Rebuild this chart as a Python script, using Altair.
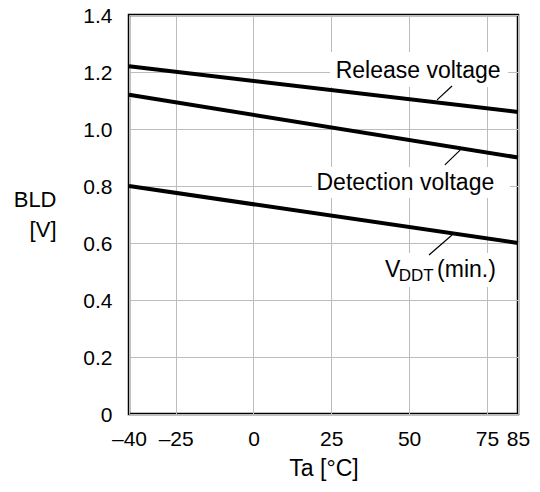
import json
import altair as alt
import pandas as pd

# ---- data ----
temps = [-40, 85]
release = [1.22, 1.06]
detection = [1.12, 0.90]
vddt_min = [0.80, 0.60]

x_ticks = [-40, -25, 0, 25, 50, 75, 85]
x_tick_labels = ["\u201340", "\u201325", "0", "25", "50", "75", "85"]
y_ticks = [0, 0.2, 0.4, 0.6, 0.8, 1.0, 1.2, 1.4]
y_tick_labels = ["0", "0.2", "0.4", "0.6", "0.8", "1.0", "1.2", "1.4"]

series_names = ["Release voltage", "Detection voltage", "VDDT (min.)"]

# centred annotation text (x in °C, y in V)
ctr_text = ["Release voltage", "Detection voltage"]
ctr_x = [52.9, 48.8]
ctr_y = [1.179, 0.786]
# left-aligned pieces of "V_DDT (min.)"
left_text = ["V", "(min.)"]
left_x = [42.3, 59.0]
left_y = [0.481, 0.481]
sub_text = ["DDT"]
sub_x = [46.7]
sub_y = [0.467]

# leader lines
lead_x = [59.0, 61.5, 56.4]
lead_y = [1.102, 0.874, 0.558]
lead_x2 = [63.8, 66.4, 63.8]
lead_y2 = [1.151, 0.926, 0.628]

# white backgrounds behind annotation text
box_x = [24.6, 18.8, 40.7]
box_x2 = [81.8, 82.4, 80.8]
box_y = [1.147, 0.758, 0.446]
box_y2 = [1.270, 0.867, 0.565]

# ---- tables ----
rows = []
for name, vals in zip(series_names, [release, detection, vddt_min]):
    for t, v in zip(temps, vals):
        rows.append({"series": name, "temp": t, "value": v})
lines_df = pd.DataFrame(rows)

ctr_df = pd.DataFrame({"text": ctr_text, "x": ctr_x, "y": ctr_y})
left_df = pd.DataFrame({"text": left_text, "x": left_x, "y": left_y})
sub_df = pd.DataFrame({"text": sub_text, "x": sub_x, "y": sub_y})
lead_df = pd.DataFrame({"x": lead_x, "y": lead_y, "x2": lead_x2, "y2": lead_y2})
box_df = pd.DataFrame({"x": box_x, "x2": box_x2, "y": box_y, "y2": box_y2})

def label_expr(values, labels):
    return f"{json.dumps(labels)}[indexof({json.dumps(values)}, datum.value)]"

xscale = alt.Scale(domain=[-40, 85], nice=False, zero=False)
yscale = alt.Scale(domain=[0, 1.4], nice=False)

xaxis = alt.Axis(
    values=x_ticks,
    labelExpr=label_expr(x_ticks, x_tick_labels),
    title="Ta [\u00b0C]",
    titleBaseline="top",
    titleY=43,
    titleFontSize=23,
    labelPadding=14,
    labelFlush=False,
    labelOverlap=False,
)
yaxis = alt.Axis(
    values=y_ticks,
    labelExpr=label_expr(y_ticks, y_tick_labels),
    title=["BLD", "[V]"],
    titleAngle=0,
    titleAlign="right",
    titleBaseline="top",
    titleX=-73,
    titleY=174,
    titleLineHeight=30,
    titleFontSize=22,
    labelPadding=17,
    labelOffset=1,
    labelOverlap=False,
)

boxes = alt.Chart(box_df).mark_rect(color="white").encode(
    x=alt.X("x:Q", scale=xscale, axis=xaxis),
    x2="x2:Q",
    y=alt.Y("y:Q", scale=yscale, axis=yaxis),
    y2="y2:Q",
)

lines = alt.Chart(lines_df).mark_line(color="black", strokeWidth=4).encode(
    x="temp:Q",
    y="value:Q",
    detail="series:N",
)

leaders = alt.Chart(lead_df).mark_rule(color="black", strokeWidth=1.2).encode(
    x="x:Q", y="y:Q", x2="x2:Q", y2="y2:Q"
)

ctr_texts = alt.Chart(ctr_df).mark_text(
    fontSize=23, baseline="alphabetic", align="center", color="black"
).encode(x="x:Q", y="y:Q", text="text:N")

left_texts = alt.Chart(left_df).mark_text(
    fontSize=23, baseline="alphabetic", align="left", color="black"
).encode(x="x:Q", y="y:Q", text="text:N")

subs = alt.Chart(sub_df).mark_text(
    fontSize=17, baseline="alphabetic", align="left", color="black"
).encode(x="x:Q", y="y:Q", text="text:N")

chart = alt.layer(boxes, lines, leaders, ctr_texts, left_texts, subs).properties(
    width=389,
    height=399,
    padding={"left": 121, "top": 7, "right": 14, "bottom": 70},
    autosize="none",
).configure(
    font="Liberation Sans",
).configure_view(
    stroke="black", strokeWidth=2.5
).configure_axis(
    domain=False,
    ticks=False,
    grid=True,
    gridColor="#bdbdbd",
    gridWidth=1,
    labelFontSize=21,
    labelColor="black",
    labelFont="Liberation Sans",
    titleFontWeight="normal",
    titleColor="black",
    titleFont="Liberation Sans",
)

chart.save("out.html", embed_options={"renderer": "svg", "actions": False})
